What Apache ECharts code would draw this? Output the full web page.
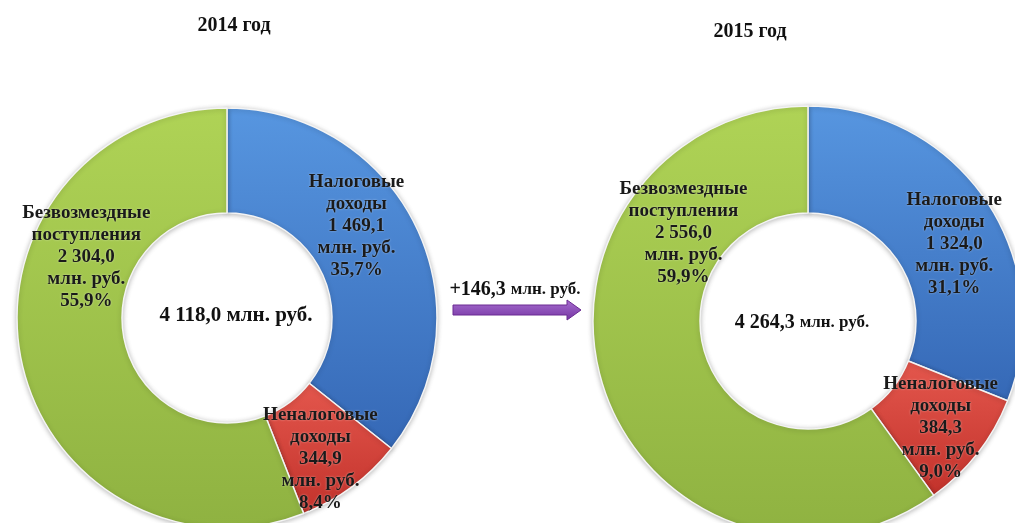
<!DOCTYPE html>
<html>
<head>
<meta charset="utf-8">
<script src="https://cdn.jsdelivr.net/npm/echarts@6/dist/echarts.min.js"></script>
<style>
html,body{margin:0;padding:0;background:#fff;}
#chart{width:1015px;height:523px;}
</style>
</head>
<body>
<div id="chart"></div>
<script>
const categories = ['Налоговые доходы', 'Неналоговые доходы', 'Безвозмездные поступления'];
const years = ['2014 год', '2015 год'];
const values2014 = [1469.1, 344.9, 2304.0];
const values2015 = [1324.0, 384.3, 2556.0];
const pct2014 = [35.7, 8.4, 55.9];
const pct2015 = [31.1, 9.0, 59.9];
const unit = 'млн. руб.';

const FONT = '"Liberation Serif","Times New Roman",serif';

function fmt(v) {
  const s = v.toFixed(1).split('.');
  const intPart = s[0].replace(/\B(?=(\d{3})+(?!\d))/g, ' ');
  return intPart + ',' + s[1];
}
function sum(a) { return a.reduce((x, y) => x + y, 0); }

const colors = [
  ['#5796e0', '#3568b6'],
  ['#e4574d', '#c2322b'],
  ['#afd356', '#8fb241']
];

function makeData(vals) {
  return vals.map((v, i) => ({
    name: categories[i],
    value: v,
    itemStyle: {
      color: new echarts.graphic.LinearGradient(0, 0, 0, 1, [
        { offset: 0, color: colors[i][0] },
        { offset: 1, color: colors[i][1] }
      ])
    }
  }));
}

// label offsets from the default inside position (px)
const offs2014 = [[-15, -22], [-2, 12], [17, -91]];
const offs2015 = [[10, 15], [3, 6], [32, -138]];

function makeSeries(vals, pcts, center, radius, offs) {
  return {
    type: 'pie',
    center: center,
    radius: radius,
    startAngle: 90,
    clockwise: true,
    silent: true,
    animation: false,
    data: makeData(vals),
    itemStyle: {
      borderColor: '#f4f4f4',
      borderWidth: 1.5,
      shadowBlur: 5,
      shadowColor: 'rgba(0,0,0,0.25)',
      shadowOffsetY: 1
    },
    label: {
      show: true,
      position: 'inside',
      formatter: function (p) {
        return p.name.split(' ').join('\n') + '\n' + fmt(p.value) + '\n' + unit + '\n' +
          pcts[p.dataIndex].toFixed(1).replace('.', ',') + '%';
      },
      fontFamily: FONT,
      fontWeight: 'bold',
      fontSize: 19,
      lineHeight: 22,
      color: '#1a1a1a',
      textShadowColor: 'rgba(255,255,255,0.5)',
      textShadowBlur: 2,
      align: 'center'
    },
    labelLine: { show: false },
    labelLayout: function (params) {
      const o = offs[params.dataIndex];
      return { dx: o[0], dy: o[1] };
    }
  };
}

const total2014 = sum(values2014);
const total2015 = sum(values2015);
const diff = total2015 - total2014;

const chart = echarts.init(document.getElementById('chart'), null, { renderer: 'canvas' });
chart.setOption({
  backgroundColor: '#ffffff',
  animation: false,
  series: [
    makeSeries(values2014, pct2014, [227, 318], [105, 210], offs2014),
    makeSeries(values2015, pct2015, [808, 321], [108, 215], offs2015)
  ],
  graphic: [
    { type: 'text', x: 234, y: 26, style: { text: years[0], font: 'bold 20px ' + FONT, fill: '#111', align: 'center', verticalAlign: 'middle' } },
    { type: 'text', x: 750, y: 32, style: { text: years[1], font: 'bold 20px ' + FONT, fill: '#111', align: 'center', verticalAlign: 'middle' } },
    {
      type: 'text', x: 236, y: 316, z: 10,
      style: {
        text: '{n|' + fmt(total2014) + ' }{u|' + unit + '}',
        align: 'center', verticalAlign: 'middle',
        rich: {
          n: { fontFamily: FONT, fontWeight: 'bold', fontSize: 21, fill: '#111' },
          u: { fontFamily: FONT, fontWeight: 'bold', fontSize: 21, fill: '#111' }
        }
      }
    },
    {
      type: 'text', x: 802, y: 323, z: 10,
      style: {
        text: '{n|' + fmt(total2015) + ' }{u|' + unit + '}',
        align: 'center', verticalAlign: 'middle',
        rich: {
          n: { fontFamily: FONT, fontWeight: 'bold', fontSize: 20, fill: '#111' },
          u: { fontFamily: FONT, fontWeight: 'bold', fontSize: 17, fill: '#111' }
        }
      }
    },
    {
      type: 'text', x: 515, y: 290, z: 10,
      style: {
        text: '{n|+' + fmt(diff) + ' }{u|' + unit + '}',
        align: 'center', verticalAlign: 'middle',
        rich: {
          n: { fontFamily: FONT, fontWeight: 'bold', fontSize: 20, fill: '#111' },
          u: { fontFamily: FONT, fontWeight: 'bold', fontSize: 17, fill: '#111' }
        }
      }
    },
    {
      type: 'polygon', z: 10,
      shape: { points: [[453, 305], [567, 305], [567, 300], [581, 310], [567, 320], [567, 315], [453, 315]] },
      style: {
        fill: new echarts.graphic.LinearGradient(0, 0, 0, 1, [
          { offset: 0, color: '#a86fd0' },
          { offset: 1, color: '#7434a2' }
        ]),
        stroke: '#6a2a92',
        lineWidth: 1
      }
    }
  ]
});
</script>
</body>
</html>
